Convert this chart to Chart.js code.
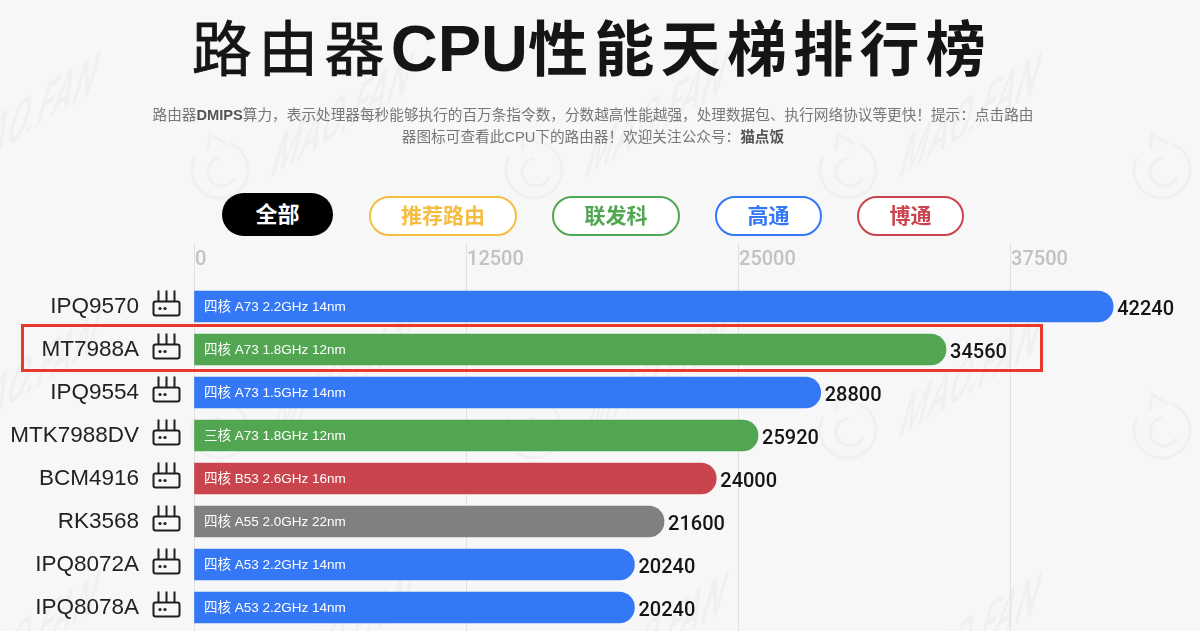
<!DOCTYPE html>
<html lang="zh">
<head>
<meta charset="utf-8">
<title>路由器CPU性能天梯排行榜</title>
<script src="https://cdn.jsdelivr.net/npm/chart.js@4"></script>
<style>
  html, body { margin: 0; padding: 0; background: #f7f7f7; }
  #page { position: relative; width: 1200px; height: 631px; overflow: hidden; font-family: "Liberation Sans", "Noto Sans CJK SC", sans-serif; }
  #chart { position: absolute; left: 0; top: 0; }
  h1 { position: absolute; left: 0; top: 7px; width: 1184px; margin: 0; text-align: center; font-size: 60px; line-height: 84px; font-weight: 700; letter-spacing: 6.3px; color: #151515; white-space: nowrap; }
  h1 span { font-weight: 400; -webkit-text-stroke: 0.8px #151515; }
  h1 i { font-style: normal; letter-spacing: 0; font-size: 65px; }
  .sub { position: absolute; left: 0; width: 1186px; text-align: center; font-size: 14.65px; line-height: 22px; color: #777; white-space: nowrap; }
  .sub b { color: #555; }
  .btn { position: absolute; top: 196px; height: 36px; line-height: 36px; border: 2px solid; border-radius: 20px; background: #fff; text-align: center; font-size: 21px; font-weight: 700; }
  #highlight { position: absolute; left: 21px; top: 324px; width: 1016px; height: 42px; border: 3px solid #e83a2c; }
</style>
</head>
<body>
<div id="page">
  <canvas id="chart" width="1200" height="631"></canvas>
  <h1><span>路由器</span><i>CPU</i>性能天梯排行榜</h1>
  <div class="sub" style="top:104px">路由器<b>DMIPS</b>算力，表示处理器每秒能够执行的百万条指令数，分数越高性能越强，处理数据包、执行网络协议等更快！提示：点击路由</div>
  <div class="sub" style="top:126px">器图标可查看此CPU下的路由器！欢迎关注公众号：<b>猫点饭</b></div>
  <div class="btn" style="left:222px;width:111px;top:193px;height:43px;line-height:44px;border:0;background:#000;color:#fff;border-radius:22px;font-size:22px">全部</div>
  <div class="btn" style="left:369px;width:144px;color:#f5be41;border-color:#f5be41">推荐路由</div>
  <div class="btn" style="left:552px;width:124px;color:#52a652;border-color:#52a652">联发科</div>
  <div class="btn" style="left:715px;width:103px;color:#3578f6;border-color:#3578f6">高通</div>
  <div class="btn" style="left:857px;width:103px;color:#c9444c;border-color:#c9444c">博通</div>
  <div id="highlight"></div>
</div>
<script>
const cpuNames = ["IPQ9570", "MT7988A", "IPQ9554", "MTK7988DV", "BCM4916", "RK3568", "IPQ8072A", "IPQ8078A"];
const dmips = [42240, 34560, 28800, 25920, 24000, 21600, 20240, 20240];
const specs = [
  "四核 A73 2.2GHz 14nm",
  "四核 A73 1.8GHz 12nm",
  "四核 A73 1.5GHz 14nm",
  "三核 A73 1.8GHz 12nm",
  "四核 B53 2.6GHz 16nm",
  "四核 A55 2.0GHz 22nm",
  "四核 A53 2.2GHz 14nm",
  "四核 A53 2.2GHz 14nm"
];
const vendors = ["qualcomm", "mediatek", "qualcomm", "mediatek", "broadcom", "rockchip", "qualcomm", "qualcomm"];
const vendorColors = { qualcomm: "#3578f6", mediatek: "#52a652", broadcom: "#c9444c", rockchip: "#808080" };
const axisTicks = [0, 12500, 25000, 37500];

// faint MAO.FAN pattern behind everything
const watermark = {
  id: "watermark",
  beforeDraw(chart) {
    const ctx = chart.ctx;
    ctx.save();
    ctx.strokeStyle = "#f0f0f0";
    ctx.fillStyle = "#f0f0f0";
    ctx.font = "500 44px Roboto";
    ctx.lineWidth = 3;
    for (let row = 0; row < 3; row++) {
      for (let col = 0; col < 5; col++) {
        const cx = -94 + col * 314;
        const cy = 170 + row * 260;
        ctx.beginPath();
        ctx.arc(cx, cy, 28, -1.2, 3.6);
        ctx.stroke();
        ctx.beginPath();
        ctx.arc(cx + 2, cy + 2, 14, 0.4, 4.6);
        ctx.stroke();
        ctx.beginPath();
        ctx.moveTo(cx - 12, cy - 20);
        ctx.lineTo(cx - 10, cy - 36);
        ctx.lineTo(cx + 6, cy - 26);
        ctx.stroke();
        ctx.save();
        ctx.translate(cx + 49, cy + 8);
        ctx.rotate(-32 * Math.PI / 180);
        ctx.transform(0.8, 0, -1.1, 1, 0, 0);
        ctx.letterSpacing = "2px";
        ctx.fillText("MAO.FAN", 0, 0);
        ctx.restore();
      }
    }
    ctx.restore();
  }
};

// router icon next to each name, spec inside the bar, score after the bar
const barExtras = {
  id: "barExtras",
  afterDatasetsDraw(chart) {
    const ctx = chart.ctx;
    const area = chart.chartArea;
    const bars = chart.getDatasetMeta(0).data;
    ctx.save();
    ctx.strokeStyle = "#e2e2e2";
    chart.scales.x.ticks.forEach((t) => {
      const x = Math.round(chart.scales.x.getPixelForValue(t.value)) + 0.5;
      ctx.beginPath();
      ctx.moveTo(x, area.bottom);
      ctx.lineTo(x, chart.height);
      ctx.stroke();
    });
    bars.forEach((bar, i) => {
      const y = bar.y;
      ctx.fillStyle = "#fff";
      ctx.font = "13.5px 'Liberation Sans', 'Noto Sans CJK SC'";
      ctx.textAlign = "left";
      ctx.textBaseline = "middle";
      ctx.fillText(specs[i], area.left + 10, y + 1);

      ctx.fillStyle = "#151515";
      ctx.font = "500 20px Roboto";
      ctx.fillText(String(dmips[i]), bar.x + 4, y + 3);

      ctx.strokeStyle = "#1f1f1f";
      ctx.fillStyle = "#1f1f1f";
      ctx.lineWidth = 2;
      ctx.beginPath();
      ctx.roundRect(area.left - 40.5, y - 5, 26, 14, 2);
      [-35.5, -27.5, -19.5].forEach((dx) => {
        ctx.moveTo(area.left + dx, y - 16);
        ctx.lineTo(area.left + dx, y - 5);
      });
      ctx.stroke();
      [-34, -29].forEach((dx) => {
        ctx.beginPath();
        ctx.arc(area.left + dx, y + 2, 1.6, 0, Math.PI * 2);
        ctx.fill();
      });
    });
    ctx.restore();
  }
};

new Chart(document.getElementById("chart").getContext("2d"), {
  type: "bar",
  data: {
    labels: cpuNames,
    datasets: [
      {
        label: "DMIPS",
        data: dmips,
        backgroundColor: vendors.map((v) => vendorColors[v]),
        barThickness: 31,
        borderSkipped: false,
        borderRadius: { topLeft: 0, bottomLeft: 0, topRight: 16, bottomRight: 16 },
      },
    ],
  },
  options: {
    indexAxis: "y",
    responsive: false,
    animation: false,
    layout: { padding: { top: 243, right: 5, bottom: 2, left: 0 } },
    plugins: { legend: { display: false }, tooltip: { enabled: false } },
    scales: {
      x: {
        position: "top",
        min: 0,
        max: 46000,
        afterBuildTicks: (s) => {
          s.ticks = axisTicks.map((value) => ({ value }));
        },
        afterFit: (s) => {
          s.height = 42;
        },
        border: { display: false },
        grid: { color: "#e2e2e2", tickLength: 42, tickColor: "#e2e2e2" },
        ticks: {
          align: "start",
          labelOffset: 1,
          padding: -29,
          maxRotation: 0,
          color: "#c2c2c2",
          font: { family: "Roboto", size: 20, weight: "500" },
          callback: (value) => String(value),
        },
      },
      y: {
        afterFit: (s) => {
          s.width = 194;
          s.paddingTop = 0;
          s.paddingBottom = 0;
        },
        border: { display: false },
        grid: { display: false, drawTicks: false },
        ticks: {
          autoSkip: false,
          padding: 55,
          color: "#222",
          font: { family: "Liberation Sans", size: 22.5 },
        },
      },
    },
  },
  plugins: [watermark, barExtras],
});
</script>
</body>
</html>
